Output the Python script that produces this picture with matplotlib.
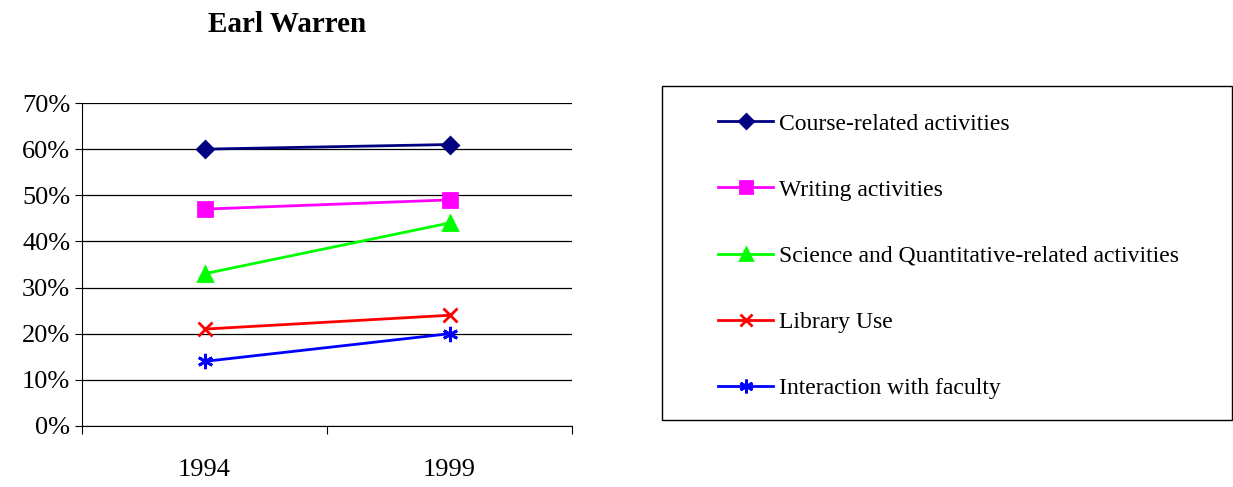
import matplotlib.pyplot as plt
from matplotlib.patches import Rectangle

plt.rcParams['font.family'] = ['Liberation Serif', 'DejaVu Serif']

years = ['1994', '1999']
series_names = ['Course-related activities', 'Writing activities',
                'Science and Quantitative-related activities', 'Library Use',
                'Interaction with faculty']
course = [60, 61]
writing = [47, 49]
science = [33, 44]
library = [21, 24]
faculty = [14, 20]
yticks = [0, 10, 20, 30, 40, 50, 60, 70]

colors = ['#000080', '#FF00FF', '#00FF00', '#FF0000', '#0000FF']
markers = ['D', 's', '^', 'x', (6, 2, 0)]
msizes = [8, 10, 10, 10, 11]

fig = plt.figure(figsize=(12.33, 4.87), dpi=100)
ax = fig.add_axes([82/1233, 1-426/487, 490/1233, 323/487])

xpos = [0.5, 1.5]
for vals, name, c, m, ms in zip([course, writing, science, library, faculty],
                                 series_names, colors, markers, msizes):
    ax.plot(xpos, vals, color=c, lw=2, marker=m, markersize=ms,
            markeredgewidth=2, label=name, clip_on=False)

ax.set_xlim(0, 2)
ax.set_ylim(0, 70)
ax.set_yticks(yticks)
ax.set_yticklabels([f'{v}%' for v in yticks], fontsize=19)
ax.set_xticks([0, 1, 2])
ax.set_xticklabels([])
ax.set_xticks(xpos, minor=True)
ax.set_xticklabels(years, minor=True, fontsize=19)
ax.tick_params(axis='x', which='minor', length=0, pad=24)
ax.tick_params(axis='x', which='major', length=6, direction='out')
ax.tick_params(axis='y', length=5, direction='out')
ax.yaxis.grid(True, color='black', lw=0.9)
ax.set_axisbelow(True)
for s in ['top', 'right']:
    ax.spines[s].set_visible(False)

fig.text(287/1233, 1-25/487, 'Earl Warren', fontsize=21, fontweight='bold',
         ha='center', va='center')

# legend frame
fig.patches.append(Rectangle((662/1233, 1-420/487), 570/1233, 334/487,
                             transform=fig.transFigure, fill=False,
                             edgecolor='black', lw=1))
fig.legend(loc='upper left', bbox_to_anchor=(718/1233, 1-113/487),
           frameon=False, fontsize=17, borderpad=0, borderaxespad=0,
           handlelength=2.35, handletextpad=0.25, labelspacing=1.89,
           markerscale=0.9)

fig.savefig('out.png', dpi=100)
